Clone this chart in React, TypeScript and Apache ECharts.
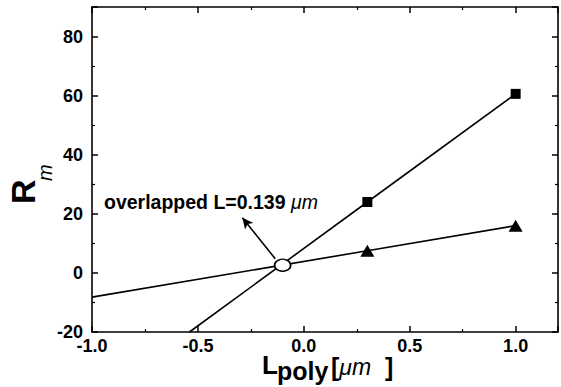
import React, { useEffect, useRef } from 'react';
import * as echarts from 'echarts';

// Measured points
const squareX = [0.3, 1.0];
const squareY = [24, 60.6];
const triangleX = [0.3, 1.0];
const triangleY = [7.5, 16];
// Straight lines drawn through the points
const squareFitX = [-0.54, 0.3, 1.0];
const squareFitY = [-20, 24, 60.6];
const triangleFitX = [-1.0, 0.3, 1.0];
const triangleFitY = [-8.2, 7.5, 16];
// Crossing ellipse and arrow (data coordinates)
const crossing = [-0.1, 2.6];
const arrowFrom = [-0.135, 4.8];
const arrowTo = [-0.29, 18.7];
// Tick labels
const xTicks = [-1.0, -0.5, 0.0, 0.5, 1.0];
const yTicks = [-20, 0, 20, 40, 60, 80];
const annotationText = 'overlapped L=0.139 ';
const annotationUnit = 'μm';

const FONT = '"Liberation Sans", Arial, Helvetica, sans-serif';

const zip = (xs: number[], ys: number[]) => xs.map((x, i) => [x, ys[i]]);

export default function App() {
  const ref = useRef<HTMLDivElement>(null);
  useEffect(() => {
    if (!ref.current) return;
    const chart = echarts.init(ref.current, undefined, { renderer: 'svg' });
    const axisLine = { show: true, onZero: false, lineStyle: { color: '#000', width: 1.6 } };
    const axisTick = { show: true, inside: true, length: 6, lineStyle: { color: '#000', width: 1.5 } };
    const minorTick = { show: true, splitNumber: 2, length: 3, lineStyle: { color: '#000', width: 1.2 } };
    const labelStyle = { color: '#000', fontFamily: FONT, fontWeight: 'bold' as const, fontSize: 18 };
    const xFmt = (v: number) => (xTicks.some((t) => Math.abs(t - v) < 1e-9) ? v.toFixed(1) : '');
    const yFmt = (v: number) => (yTicks.includes(v) ? String(v) : '');
    const xBase = { type: 'value' as const, min: -1.0, max: 1.2, interval: 0.5, axisLine, axisTick, minorTick, splitLine: { show: false } };
    const yBase = { type: 'value' as const, min: -20, max: 90, interval: 20, axisLine, axisTick, minorTick, splitLine: { show: false } };
    chart.setOption({
      animation: false,
      backgroundColor: '#fff',
      grid: { left: 92, right: 3, top: 7, bottom: 55, containLabel: false },
      xAxis: [
        { ...xBase, position: 'bottom', axisLabel: { ...labelStyle, margin: 5, formatter: xFmt, showMaxLabel: false } },
        { ...xBase, position: 'top', axisLabel: { show: false } },
      ],
      yAxis: [
        { ...yBase, position: 'left', axisLabel: { ...labelStyle, margin: 9, formatter: yFmt, showMaxLabel: false } },
        { ...yBase, position: 'right', axisLabel: { show: false } },
      ],
      series: [
        {
          type: 'line', data: zip(squareFitX, squareFitY), symbol: 'none',
          lineStyle: { color: '#000', width: 1.6 }, z: 2,
        },
        {
          type: 'line', data: zip(triangleFitX, triangleFitY), symbol: 'none',
          lineStyle: { color: '#000', width: 1.6 }, z: 2,
        },
        {
          type: 'scatter', data: zip(squareX, squareY), symbol: 'rect', symbolSize: 10,
          itemStyle: { color: '#000', opacity: 1 }, z: 3,
        },
        {
          type: 'scatter', data: zip(triangleX, triangleY), symbol: 'triangle', symbolSize: [14, 12],
          itemStyle: { color: '#000', opacity: 1 }, z: 3,
        },
        {
          type: 'scatter', data: [crossing], symbol: 'circle', symbolSize: [16, 12],
          itemStyle: { color: '#fff', opacity: 1, borderColor: '#000', borderWidth: 1.6 }, z: 4,
          markLine: {
            silent: true, animation: false,
            symbol: ['none', 'arrow'], symbolSize: [8, 11],
            label: { show: false },
            lineStyle: { color: '#000', width: 1.6, type: 'solid' },
            data: [[{ coord: arrowFrom }, { coord: arrowTo }]],
          },
        },
      ],
      graphic: [
        {
          type: 'text', left: 104, top: 192, z: 10,
          style: {
            text: `{b|${annotationText}}{u|${annotationUnit}}`,
            rich: {
              b: { fontFamily: FONT, fontWeight: 'bold', fontSize: 19.5, fill: '#000' },
              u: { fontFamily: FONT, fontStyle: 'italic', fontSize: 19.5, fill: '#000' },
            },
          },
        },
        // y-axis name R_m (rotated)
        {
          type: 'text', x: 40, y: 204, rotation: Math.PI / 2,
          style: { text: 'R', fontFamily: FONT, fontWeight: 'bold', fontSize: 34, fill: '#000', align: 'left', verticalAlign: 'bottom' },
        },
        {
          type: 'text', x: 55, y: 181, rotation: Math.PI / 2,
          style: { text: 'm', fontFamily: FONT, fontStyle: 'italic', fontSize: 20, fill: '#000', align: 'left', verticalAlign: 'bottom' },
        },
        // x-axis name L_poly[μm ]
        {
          type: 'text', x: 262, y: 352,
          style: { text: 'L', fontFamily: FONT, fontWeight: 'bold', fontSize: 26, fill: '#000', align: 'left', verticalAlign: 'top' },
        },
        {
          type: 'text', x: 277, y: 358,
          style: { text: 'poly', fontFamily: FONT, fontWeight: 'bold', fontSize: 25, fill: '#000', align: 'left', verticalAlign: 'top' },
        },
        {
          type: 'text', x: 331, y: 354,
          style: {
            text: '{b|[}{u|μm}{b|  ]}',
            rich: {
              b: { fontFamily: FONT, fontWeight: 'bold', fontSize: 25, fill: '#000' },
              u: { fontFamily: FONT, fontStyle: 'italic', fontSize: 23, fill: '#000' },
            },
            align: 'left', verticalAlign: 'top',
          },
        },
      ],
    });
    return () => chart.dispose();
  }, []);
  return <div ref={ref} style={{ position: 'fixed', left: 0, top: 0, width: 561, height: 387 }} />;
}
